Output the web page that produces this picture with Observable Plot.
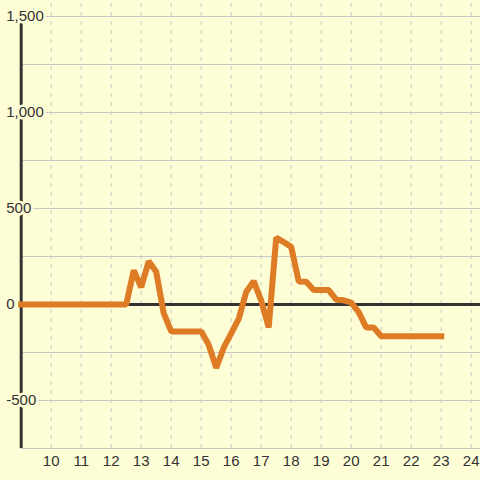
<!DOCTYPE html>
<html>
<head>
<meta charset="utf-8">
<script src="https://cdn.jsdelivr.net/npm/d3@7"></script>
<script src="https://cdn.jsdelivr.net/npm/@observablehq/plot@0.6"></script>
<style>
  html, body { margin: 0; padding: 0; background: #fdfdd6; }
  #chart svg { display: block; }
</style>
</head>
<body>
<div id="chart"></div>
<script>
const xValues = [9, 9.25, 9.5, 9.75, 10, 10.25, 10.5, 10.75, 11, 11.25, 11.5, 11.75, 12, 12.25, 12.5,
  12.75, 13, 13.25, 13.5, 13.75, 14, 14.25, 14.5, 14.75, 15, 15.25, 15.5, 15.75, 16, 16.25, 16.5, 16.75,
  17, 17.25, 17.5, 17.75, 18, 18.25, 18.5, 18.75, 19, 19.25, 19.5, 19.75, 20, 20.25, 20.5, 20.75, 21,
  21.25, 21.5, 21.75, 22, 22.25, 22.5, 22.75, 23];
const yValues = [0, 0, 0, 0, 0, 0, 0, 0, 0, 0, 0, 0, 0, 0, 0,
  177, 90, 225, 170, -45, -140, -140, -140, -140, -140, -210, -330, -225, -150, -75, 65, 122,
  20, -120, 348, 325, 300, 120, 118, 75, 75, 75, 25, 22, 10, -40, -120, -120, -165,
  -165, -165, -165, -165, -165, -165, -165, -165];
const xTicks = [10, 11, 12, 13, 14, 15, 16, 17, 18, 19, 20, 21, 22, 23, 24];
const yTicks = [-500, 0, 500, 1000, 1500];
const yTickLabels = ["-500", "0", "500", "1,000", "1,500"];
const yGrid = [-750, -500, -250, 250, 500, 750, 1000, 1250, 1500];

const data = xValues.map((x, i) => ({x, y: yValues[i]}));
const yLabelData = yTicks.map((y, i) => ({y, label: yTickLabels[i]}));
const bg = "#fdfdd6";
const xMin = 8.31, xMax = 24.31, yMin = -750, yMax = 1583.3, xAxisAt = 9;

const chart = Plot.plot({
  width: 480,
  height: 480,
  marginLeft: 0,
  marginRight: 0,
  marginTop: 0,
  marginBottom: 32,
  style: {background: bg, fontFamily: "'Liberation Sans', Arial, sans-serif"},
  x: {domain: [xMin, xMax], axis: null},
  y: {domain: [yMin, yMax], axis: null},
  marks: [
    Plot.ruleX(xTicks, {x: d => d, y1: yMin, y2: yMax, stroke: "#c8c8c8", strokeWidth: 1, strokeDasharray: "4,5"}),
    Plot.ruleY(yGrid, {y: d => d, x1: xAxisAt, x2: xMax, stroke: "#c8c8c8", strokeWidth: 1}),
    Plot.ruleX([xAxisAt], {y1: yMin, y2: 1500, stroke: "#333", strokeWidth: 3}),
    Plot.ruleY([0], {x1: xAxisAt, x2: xMax, stroke: "#333", strokeWidth: 3}),
    Plot.line(data, {x: "x", y: "y", stroke: "#de7b25", strokeWidth: 6, strokeLinejoin: "miter", strokeLinecap: "square"}),
    Plot.text(yLabelData, {
      x: () => xAxisAt, y: "y", text: "label",
      textAnchor: "start", dx: -15, lineAnchor: "middle",
      fontSize: 15, fill: "#333", stroke: bg, strokeWidth: 5
    }),
    Plot.text(xTicks, {
      x: d => d, frameAnchor: "bottom", dy: 13, text: d => String(d),
      lineAnchor: "middle", fontSize: 15, fill: "#333"
    })
  ]
});
document.getElementById("chart").appendChild(chart);
</script>
</body>
</html>
